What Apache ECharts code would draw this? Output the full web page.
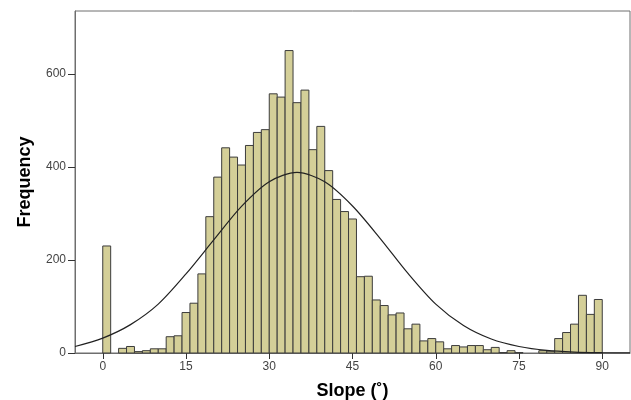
<!DOCTYPE html>
<html>
<head>
<meta charset="utf-8">
<script src="https://cdn.jsdelivr.net/npm/echarts@6/dist/echarts.min.js"></script>
<style>
  html, body { margin: 0; padding: 0; background: #fff; }
  #hist { width: 631px; height: 400px; }
</style>
</head>
<body>
<div id="hist"></div>
<script>
// histogram counts, 63 bins from 0 to 90 degrees
let counts = [
  230, 0, 10, 14, 3, 5, 9, 9, 35, 37,
  87, 107, 170, 293, 378, 441, 421, 404, 446, 474,
  480, 557, 550, 650, 538, 565, 437, 487, 392, 330,
  304, 288, 164, 165, 114, 102, 82, 86, 52, 62,
  26, 31, 24, 9, 16, 13, 16, 16, 7, 12,
  1, 5, 1, 0, 0, 5, 4, 31, 44, 62,
  124, 83, 115
];
let binFrom = 0;
let binTo = 90;
// normal curve, every 5 degrees
let curveX = [-5, 0, 5, 10, 15, 20, 25, 30, 35, 40, 45, 50, 55, 60, 65, 70, 75, 80, 85, 90, 95];
let curveY = [14, 32, 61, 105, 170, 243, 315, 368, 388, 368, 316, 246, 171, 105, 59, 30, 14, 5.5, 2, 0.7, 0.2];
let xTicks = [0, 15, 30, 45, 60, 75, 90];
let yTicks = [0, 200, 400, 600];

let binWidth = (binTo - binFrom) / counts.length;
let barData = [];
for (let i = 0; i < counts.length; i++) {
  barData.push([binFrom + i * binWidth, binFrom + (i + 1) * binWidth, counts[i]]);
}
let lineData = [];
for (let i = 0; i < curveX.length; i++) {
  lineData.push([curveX[i], curveY[i]]);
}

let myChart = echarts.init(document.getElementById('hist'));
let axisColor = '#6e6e6e';
let option = {
  animation: false,
  backgroundColor: '#fff',
  grid: {
    left: 75,
    right: 1,
    top: 11,
    bottom: 47,
    outerBoundsMode: 'none',
    containLabel: false,
    show: true,
    borderColor: axisColor,
    borderWidth: 1
  },
  xAxis: {
    type: 'value',
    min: -5,
    max: 95,
    name: 'Slope (˚)',
    nameLocation: 'middle',
    nameGap: 29,
    nameTextStyle: {
      fontFamily: 'Liberation Sans',
      fontWeight: 'bold',
      fontSize: 18,
      color: '#000'
    },
    axisLine: { onZero: false, lineStyle: { color: axisColor } },
    axisTick: {
      show: true,
      length: 6,
      customValues: xTicks,
      lineStyle: { color: '#333' }
    },
    axisLabel: {
      customValues: xTicks,
      fontFamily: 'Liberation Sans',
      fontSize: 12,
      color: '#444',
      margin: 8
    },
    splitLine: { show: false }
  },
  yAxis: {
    type: 'value',
    min: 0,
    max: 735,
    name: 'Frequency',
    nameLocation: 'middle',
    nameGap: 41,
    nameTextStyle: {
      fontFamily: 'Liberation Sans',
      fontWeight: 'bold',
      fontSize: 18,
      color: '#000'
    },
    axisLine: { show: true, onZero: false, lineStyle: { color: axisColor } },
    axisTick: {
      show: true,
      length: 7,
      customValues: yTicks,
      lineStyle: { color: '#333' }
    },
    axisLabel: {
      customValues: yTicks,
      fontFamily: 'Liberation Sans',
      fontSize: 12,
      color: '#444',
      margin: 9
    },
    splitLine: { show: false }
  },
  series: [
    {
      name: 'bins',
      type: 'custom',
      data: barData,
      encode: { x: [0, 1], y: 2 },
      renderItem: function (params, api) {
        let p0 = api.coord([api.value(0), api.value(2)]);
        let p1 = api.coord([api.value(1), 0]);
        if (api.value(2) <= 0) {
          return null;
        }
        return {
          type: 'rect',
          shape: {
            x: p0[0],
            y: p0[1],
            width: p1[0] - p0[0],
            height: p1[1] - p0[1]
          },
          style: {
            fill: '#d4cf98',
            stroke: '#3c3c3c',
            lineWidth: 1
          }
        };
      }
    },
    {
      name: 'normal',
      type: 'line',
      data: lineData,
      smooth: 0.3,
      showSymbol: false,
      symbol: 'none',
      clip: true,
      lineStyle: { color: '#222', width: 1.2 },
      z: 3
    }
  ]
};
myChart.setOption(option);
</script>
</body>
</html>
